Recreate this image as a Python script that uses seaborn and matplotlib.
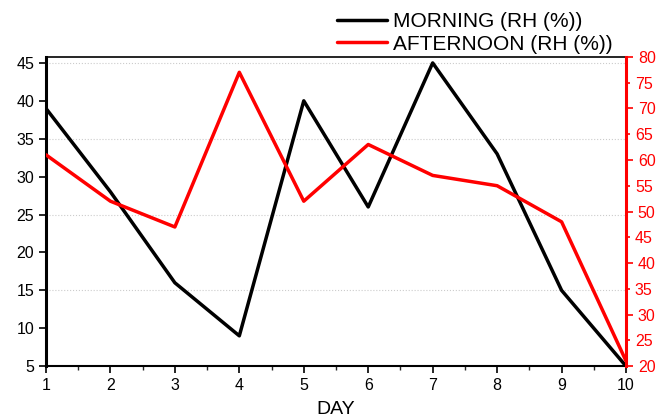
import pandas as pd
import matplotlib.pyplot as plt
from matplotlib.ticker import MultipleLocator
from matplotlib.lines import Line2D
import seaborn as sns

# Данные с графика
days = [1, 2, 3, 4, 5, 6, 7, 8, 9, 10]
morning_rh = [39, 28, 16, 9, 40, 26, 45, 33, 15, 5]
afternoon_rh = [61, 52, 47, 77, 52, 63, 57, 55, 48, 21]

df = pd.DataFrame({'day': days, 'morning': morning_rh, 'afternoon': afternoon_rh})

sns.set_style("white")
plt.rcParams['font.family'] = ['Liberation Sans', 'DejaVu Sans']
plt.rcParams['text.color'] = 'black'
plt.rcParams['axes.labelcolor'] = 'black'

fig = plt.figure(figsize=(6.66, 4.18), dpi=100)
ax = fig.add_axes([0.069, 0.124, 0.871, 0.74])
ax2 = ax.twinx()

sns.lineplot(data=df, x='day', y='morning', ax=ax, color='black', linewidth=2.5)
sns.lineplot(data=df, x='day', y='afternoon', ax=ax2, color='#ff0000', linewidth=2.5)

# Левая ось
ax.set_xlim(1, 10)
ax.set_ylim(5, 45.8)
ax.yaxis.set_major_locator(MultipleLocator(5))
ax.xaxis.set_major_locator(MultipleLocator(1))
ax.xaxis.set_minor_locator(MultipleLocator(0.5))
ax.set_xlabel('DAY', fontsize=14, labelpad=6)
ax.set_ylabel('')
ax.tick_params(axis='both', which='major', direction='out', length=5, width=1.2,
               labelsize=11.5, colors='black', left=True, bottom=True)
ax.tick_params(axis='x', which='minor', direction='out', length=3, width=1, bottom=True)
for y in [15, 25, 35, 45]:
    ax.axhline(y, color='#cccccc', linestyle=':', linewidth=0.8, zorder=0)

ax.spines['left'].set_linewidth(2.2)
ax.spines['left'].set_color('black')
ax.spines['bottom'].set_linewidth(1.5)
ax.spines['bottom'].set_color('black')
ax.spines['top'].set_linewidth(1.2)
ax.spines['top'].set_color('black')
ax.spines['right'].set_visible(False)

# Правая ось
ax2.set_ylim(20, 80)
ax2.yaxis.set_major_locator(MultipleLocator(10))
ax2.yaxis.set_minor_locator(MultipleLocator(5))
ax2.set_ylabel('')
ax2.tick_params(axis='y', which='major', direction='out', length=5, width=1.2,
                labelsize=11.5, colors='#ff0000', right=True)
ax2.tick_params(axis='y', which='minor', direction='out', length=3, width=1.2,
                labelsize=11.5, colors='#ff0000', right=True, labelright=True)
ax2.yaxis.set_minor_formatter(plt.FormatStrFormatter('%d'))
for side in ['left', 'top', 'bottom']:
    ax2.spines[side].set_visible(False)
ax2.spines['right'].set_color('#ff0000')
ax2.spines['right'].set_linewidth(2.2)

handles = [Line2D([], [], color='black', linewidth=2.5),
           Line2D([], [], color='#ff0000', linewidth=2.5)]
fig.legend(handles, ['MORNING (RH (%))', 'AFTERNOON (RH (%))'],
           loc='upper left', bbox_to_anchor=(0.478, 1.015), frameon=False,
           fontsize=15, handlelength=2.4, labelspacing=0.15, handletextpad=0.3)

fig.savefig('out.png', dpi=100)
